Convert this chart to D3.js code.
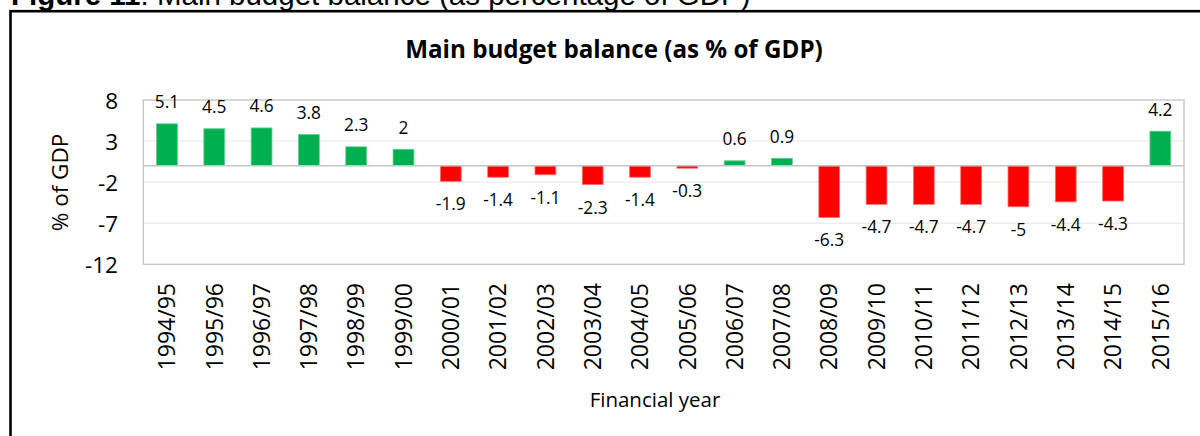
<!DOCTYPE html>
<html>
<head>
<meta charset="utf-8">
<script src="https://cdn.jsdelivr.net/npm/d3@7/dist/d3.min.js"></script>
<style>
  html, body { margin: 0; padding: 0; background: #fff; }
  svg { display: block; }
</style>
</head>
<body>
<svg id="chart" width="1200" height="436"></svg>
<script>
// Main budget balance, % of GDP, by financial year
const categories = ["1994/95", "1995/96", "1996/97", "1997/98", "1998/99", "1999/00",
  "2000/01", "2001/02", "2002/03", "2003/04", "2004/05", "2005/06", "2006/07", "2007/08",
  "2008/09", "2009/10", "2010/11", "2011/12", "2012/13", "2013/14", "2014/15", "2015/16"];
const balance = [5.1, 4.5, 4.6, 3.8, 2.3, 2, -1.9, -1.4, -1.1, -2.3, -1.4, -0.3, 0.6, 0.9,
  -6.3, -4.7, -4.7, -4.7, -5, -4.4, -4.3, 4.2];
const yTicks = [-12, -7, -2, 3, 8];

const font = "'Open Sans', sans-serif";
const svg = d3.select("#chart");

// Figure caption above the framed chart
svg.append("text")
  .attr("x", 11).attr("y", 5)
  .attr("font-family", "'Liberation Sans', Arial, sans-serif")
  .attr("font-size", 29.5)
  .attr("fill", "#000")
  .call(t => {
    t.append("tspan").attr("font-weight", "bold").text("Figure 11");
    t.append("tspan").text(": Main budget balance (as percentage of GDP)");
  });

// Frame around the chart
svg.append("rect")
  .attr("x", 10.5).attr("y", 11.2)
  .attr("width", 1400).attr("height", 600)
  .attr("fill", "none").attr("stroke", "#000").attr("stroke-width", 2.6);

const plot = { left: 143.3, right: 1184, top: 100, bottom: 264.3 };

const x = d3.scaleBand()
  .domain(categories)
  .range([plot.left, plot.right])
  .paddingInner(0.56)
  .paddingOuter(0.28);

const y = d3.scaleLinear()
  .domain([d3.min(yTicks), d3.max(yTicks)])
  .range([plot.bottom, plot.top]);

// Chart title
svg.append("text")
  .attr("x", 614).attr("y", 58)
  .attr("text-anchor", "middle")
  .attr("font-family", font).attr("font-weight", "bold")
  .attr("font-size", 24.2)
  .attr("fill", "#000")
  .text("Main budget balance (as % of GDP)");

// Horizontal gridlines
svg.append("g")
  .selectAll("line")
  .data(yTicks.filter(v => v !== d3.min(yTicks) && v !== d3.max(yTicks)))
  .join("line")
  .attr("x1", plot.left).attr("x2", plot.right)
  .attr("y1", d => y(d)).attr("y2", d => y(d))
  .attr("stroke", "#ececec").attr("stroke-width", 1.3);

// Plot area border
svg.append("rect")
  .attr("x", plot.left).attr("y", plot.top)
  .attr("width", plot.right - plot.left).attr("height", plot.bottom - plot.top)
  .attr("fill", "none").attr("stroke", "#c4c4c4").attr("stroke-width", 1.3);

// Y axis tick labels (plain hyphen for negatives)
const yAxis = d3.axisLeft(y).tickValues(yTicks).tickSize(0).tickPadding(0)
  .tickFormat(d => String(d));
svg.append("g")
  .attr("transform", `translate(118,0)`)
  .call(yAxis)
  .call(g => g.select(".domain").remove())
  .call(g => g.selectAll("text")
    .attr("font-family", font).attr("font-size", 22.5).attr("fill", "#000")
    .attr("dy", "0.36em"));

// Bars
svg.append("g")
  .selectAll("rect")
  .data(balance)
  .join("rect")
  .attr("x", (d, i) => x(categories[i]))
  .attr("width", x.bandwidth())
  .attr("y", d => y(Math.max(0, d)))
  .attr("height", d => Math.abs(y(d) - y(0)))
  .attr("fill", d => d >= 0 ? "#00b050" : "#ff0000")
  .attr("stroke", d => d >= 0 ? "#5fd08f" : "#ff7070")
  .attr("stroke-width", 0.8);

// Zero line
svg.append("line")
  .attr("x1", plot.left).attr("x2", plot.right)
  .attr("y1", y(0)).attr("y2", y(0))
  .attr("stroke", "#c4c4c4").attr("stroke-width", 1.6);

// Value labels
svg.append("g")
  .selectAll("text")
  .data(balance)
  .join("text")
  .attr("x", (d, i) => x(categories[i]) + x.bandwidth() / 2)
  .attr("y", d => d >= 0 ? y(d) - 15.7 : y(d) + 29)
  .attr("text-anchor", "middle")
  .attr("font-family", font).attr("font-size", 17.3).attr("fill", "#000")
  .text(d => d);

// X axis category labels, rotated
const xAxis = d3.axisBottom(x).tickSize(0).tickPadding(0);
svg.append("g")
  .attr("transform", `translate(0,283)`)
  .call(xAxis)
  .call(g => g.select(".domain").remove())
  .call(g => g.selectAll("text")
    .attr("font-family", font).attr("font-size", 23).attr("fill", "#000")
    .attr("text-anchor", "end")
    .attr("transform", "rotate(-90)")
    .attr("x", 0).attr("y", 0).attr("dy", "0.36em"));

// Axis titles
svg.append("text")
  .attr("x", 655).attr("y", 406.5)
  .attr("text-anchor", "middle")
  .attr("font-family", font).attr("font-size", 20.5).attr("fill", "#000")
  .text("Financial year");

svg.append("text")
  .attr("transform", "translate(68,182.5) rotate(-90)")
  .attr("text-anchor", "middle")
  .attr("font-family", font).attr("font-size", 22.5).attr("fill", "#000")
  .text("% of GDP");
</script>
</body>
</html>
